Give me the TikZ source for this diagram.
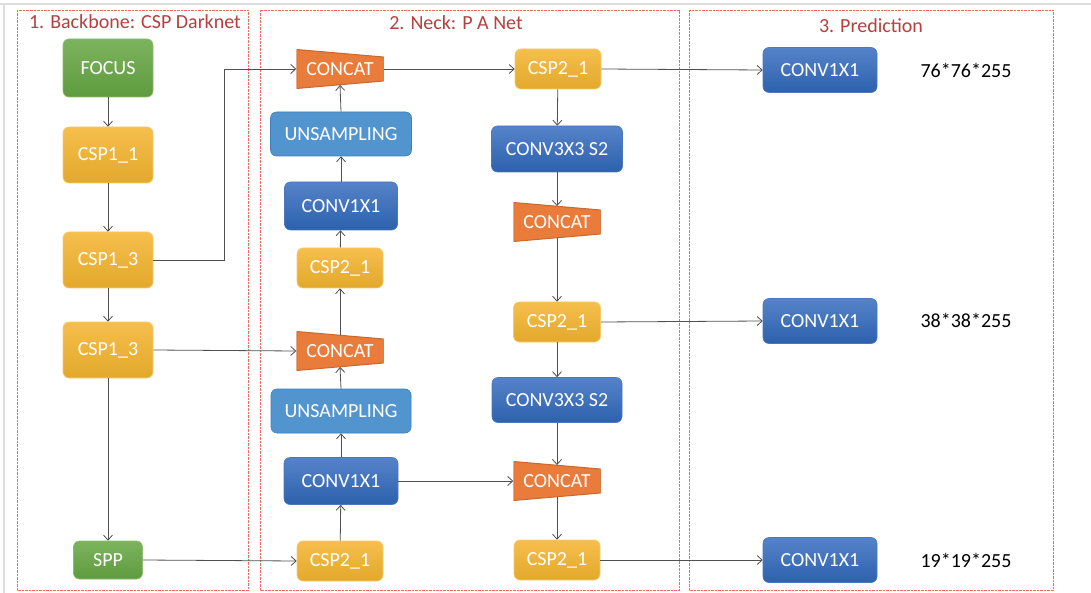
\documentclass[tikz,border=0pt]{standalone}
\usepackage{fontspec}
\setmainfont{Carlito}
\usetikzlibrary{arrows.meta,calc}
\definecolor{grnT}{HTML}{7DB35E}
\definecolor{grnB}{HTML}{5E9B3E}
\definecolor{grnD}{HTML}{8CBC70}
\definecolor{ylwT}{HTML}{F6BE4C}
\definecolor{ylwB}{HTML}{E2A92C}
\definecolor{ylwD}{HTML}{F7CB6E}
\definecolor{bluT}{HTML}{5583C9}
\definecolor{bluB}{HTML}{2D61AD}
\definecolor{bluD}{HTML}{4A77BE}
\definecolor{lbl}{HTML}{5294CE}
\definecolor{lblD}{HTML}{3E80BD}
\definecolor{org}{HTML}{E97B3B}
\definecolor{orgD}{HTML}{C9682F}
\definecolor{frm}{HTML}{F06A6A}
\definecolor{ttl}{HTML}{B5403E}
\definecolor{arr}{HTML}{505050}
\definecolor{edge}{HTML}{DEDEDE}
\tikzset{
  box/.style={rectangle, rounded corners=6pt, inner sep=0pt, text=white,
    font=\fontsize{20}{24}\selectfont, line width=0.6pt},
  gbox/.style={box, top color=grnT, bottom color=grnB, draw=grnD},
  ybox/.style={box, top color=ylwT, bottom color=ylwB, draw=ylwD},
  bbox/.style={box, top color=bluT, bottom color=bluB, draw=bluD},
  lbox/.style={box, fill=lbl, draw=lblD},
  concat/.style={rectangle, inner sep=0pt, minimum width=87pt, minimum height=39pt,
    text=white, font=\fontsize{20}{24}\selectfont,
    path picture={
      \filldraw[fill=org, draw=orgD, line width=1pt]
        (path picture bounding box.north west)
        -- ([yshift=-7.5pt]path picture bounding box.north east)
        -- ([yshift=7.5pt]path picture bounding box.south east)
        -- (path picture bounding box.south west) -- cycle;}},
  frame/.style={draw=frm, line width=0.8pt, dash pattern=on 2.5pt off 1pt},
  title/.style={text=ttl, font=\fontsize{20}{24}\selectfont, inner sep=0pt},
  dim/.style={text=black, font=\fontsize{20}{24}\selectfont, inner sep=0pt},
  link/.style={draw=arr, line width=0.8pt, -{Straight Barb[length=5pt,width=9pt]}},
}
\begin{document}
\begin{tikzpicture}[x=1pt, y=-1pt]
\useasboundingbox (0,0) rectangle (1091,593);
\fill[white] (0,0) rectangle (1091,593);
\fill[edge] (0,3) rectangle (1091,5.3);
\fill[edge] (2.5,3) rectangle (5,593);

% frames
\draw[frame] (17,10) rectangle (248,590);
\draw[frame] (260,10) rectangle (679,590);
\draw[frame] (689,10) rectangle (1053,590);
\node[title] (t1) at (135,22) {1. Backbone: CSP Darknet};
\node[title] (t2) at (456,23) {2. Neck: P A Net};
\node[title] (t3) at (871,26) {3. Prediction};

% column 1
\node[gbox, minimum width=90pt, minimum height=58pt] (focus) at (108,68) {FOCUS};
\node[ybox, minimum width=90pt, minimum height=56pt] (csp11) at (108,155) {CSP1\_1};
\node[ybox, minimum width=90pt, minimum height=56pt] (csp13a) at (108,260) {CSP1\_3};
\node[ybox, minimum width=90pt, minimum height=56pt] (csp13b) at (108,350) {CSP1\_3};
\node[gbox, minimum width=69pt, minimum height=38pt] (spp) at (108,560) {SPP};

% column 2
\node[concat] (cat1) at (340,69) {CONCAT};
\node[lbox, minimum width=141pt, minimum height=44pt] (ups1) at (341,134) {UNSAMPLING};
\node[bbox, minimum width=113pt, minimum height=48pt] (cv1a) at (341,206) {CONV1X1};
\node[ybox, minimum width=86pt, minimum height=40pt] (c21a) at (340,268) {CSP2\_1};
\node[concat] (cat2) at (340,351) {CONCAT};
\node[lbox, minimum width=140pt, minimum height=44pt] (ups2) at (341,411) {UNSAMPLING};
\node[bbox, minimum width=114pt, minimum height=47pt] (cv1b) at (341,481) {CONV1X1};
\node[ybox, minimum width=86pt, minimum height=40pt] (c21b) at (340,561) {CSP2\_1};

% column 3
\node[ybox, minimum width=86pt, minimum height=40pt] (c31) at (558,69) {CSP2\_1};
\node[bbox, minimum width=131pt, minimum height=46pt] (cv3a) at (557,149) {CONV3X3 S2};
\node[concat] (cat3) at (557,222) {CONCAT};
\node[ybox, minimum width=87pt, minimum height=40pt] (c32) at (557,322) {CSP2\_1};
\node[bbox, minimum width=130pt, minimum height=45pt] (cv3b) at (557,400) {CONV3X3 S2};
\node[concat] (cat4) at (557,481) {CONCAT};
\node[ybox, minimum width=86pt, minimum height=40pt] (c33) at (557,560) {CSP2\_1};

% column 4
\node[bbox, minimum width=114pt, minimum height=45pt] (p1) at (820,70) {CONV1X1};
\node[bbox, minimum width=114pt, minimum height=45pt] (p2) at (820,321) {CONV1X1};
\node[bbox, minimum width=114pt, minimum height=45pt] (p3) at (820,560) {CONV1X1};
\node[dim] (d1) at (966,70) {76*76*255};
\node[dim] (d2) at (966,320) {38*38*255};
\node[dim] (d3) at (966,560) {19*19*255};

% backbone links
\draw[link] (focus) -- (csp11);
\draw[link] (csp11) -- (csp13a);
\draw[link] (csp13a) -- (csp13b);
\draw[link] (csp13b) -- (spp);
\draw[link] (csp13a.east) -| ([xshift=-72pt]cat1.west) -- (cat1.west);
\draw[link] (csp13b.east) -- (cat2.west);
\draw[link] (spp.east) -- (c21b.west);

% neck up path
\draw[link] (c21b) -- (cv1b);
\draw[link] (cv1b) -- (ups2);
\draw[link] (ups2.north) -- ([yshift=3.75pt]cat2.south);
\draw[link] ([yshift=-3.75pt]cat2.north) -- (c21a.south);
\draw[link] (c21a) -- (cv1a);
\draw[link] (cv1a) -- (ups1);
\draw[link] (ups1.north) -- ([yshift=3.75pt]cat1.south);
\draw[link] (cat1.east) -- (c31.west);
\draw[link] (cv1b.east) -- (cat4.west);

% neck down path
\draw[link] (c31) -- (cv3a);
\draw[link] (cv3a.south) -- ([yshift=-3.75pt]cat3.north);
\draw[link] ([yshift=3.75pt]cat3.south) -- (c32.north);
\draw[link] (c32) -- (cv3b);
\draw[link] (cv3b.south) -- ([yshift=-3.75pt]cat4.north);
\draw[link] ([yshift=3.75pt]cat4.south) -- (c33.north);

% prediction links
\draw[link] (c31.east) -- (p1.west);
\draw[link] (c32.east) -- (p2.west);
\draw[link] (c33.east) -- (p3.west);
\end{tikzpicture}
\end{document}
